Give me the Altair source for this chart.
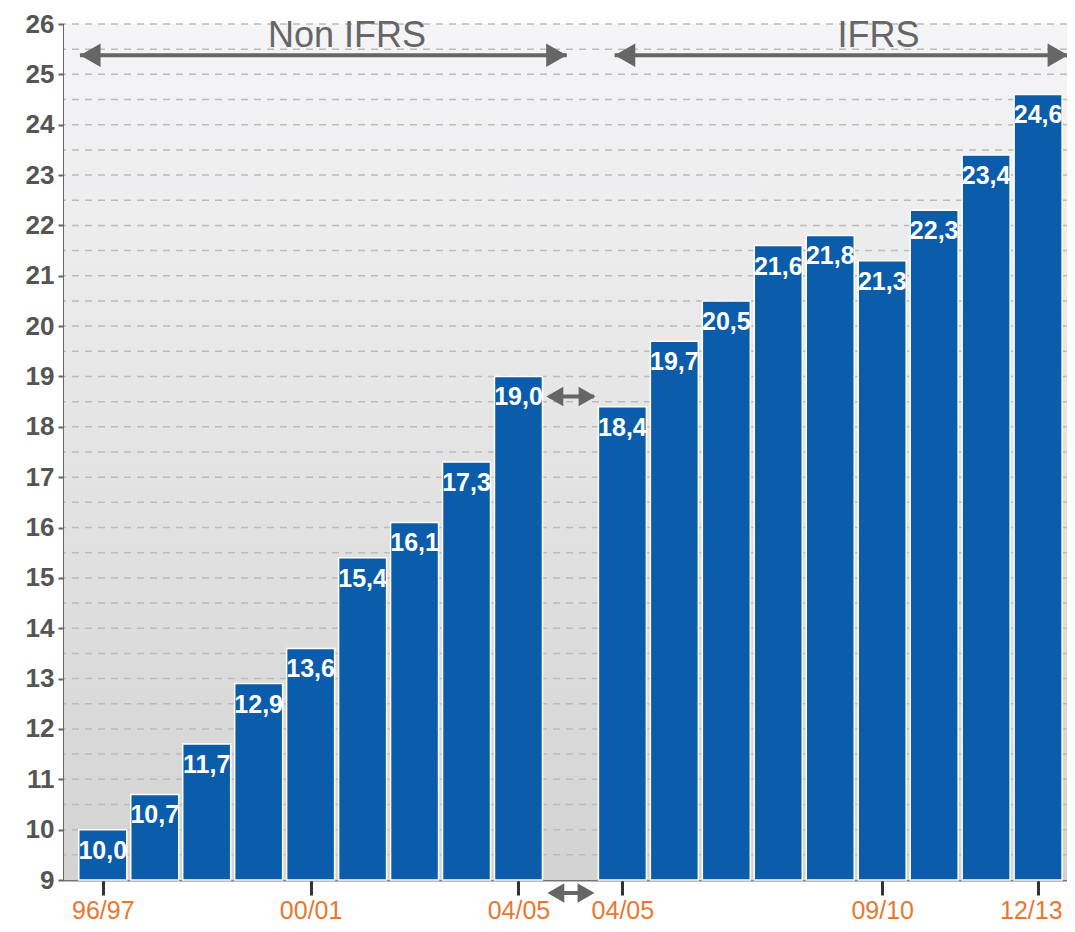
import altair as alt
import pandas as pd

# ---- data ----
years = ["96/97", "97/98", "98/99", "99/00", "00/01", "01/02", "02/03", "03/04", "04/05",
         "04/05", "05/06", "06/07", "07/08", "08/09", "09/10", "10/11", "11/12", "12/13"]
slots = [0, 1, 2, 3, 4, 5, 6, 7, 8, 10, 11, 12, 13, 14, 15, 16, 17, 18]
values = [10.0, 10.7, 11.7, 12.9, 13.6, 15.4, 16.1, 17.3, 19.0,
          18.4, 19.7, 20.5, 21.6, 21.8, 21.3, 22.3, 23.4, 24.6]
tick_slots = [0, 4, 8, 10, 15, 18]
tick_labels = ["96/97", "00/01", "04/05", "04/05", "09/10", "12/13"]
y_ticks = list(range(9, 27))
grid_vals = [9.5 + 0.5 * k for k in range(34)]
BASE = 9

# annotation arrows (slot units, value units)
arrow_x = [-0.44, 9.85, 8.6, 8.65]
arrow_x2 = [8.93, 18.6, 9.45, 9.4]
arrow_y = [25.38, 25.38, 18.6, 8.74]
head_x = [-0.24, 8.73, 10.05, 18.38]
head_y = [25.38, 25.38, 25.38, 25.38]
head_shape = ["triangle-left", "triangle-right", "triangle-left", "triangle-right"]
small_head_x = [8.7, 9.32, 8.72, 9.3]
small_head_y = [18.6, 18.6, 8.74, 8.74]
small_head_shape = ["triangle-left", "triangle-right", "triangle-left", "triangle-right"]
ann_text = ["Non IFRS", "IFRS"]
ann_x = [4.7, 14.93]
ann_y = [25.76, 25.76]

df = pd.DataFrame({
    "slot": slots,
    "year": years,
    "value": values,
    "base": [BASE] * len(values),
    "label": [f"{v:.1f}".replace(".", ",") for v in values],
})
df_grid = pd.DataFrame({"g": grid_vals})
df_arrows = pd.DataFrame({"x": arrow_x, "x2": arrow_x2, "y": arrow_y})
df_heads = pd.DataFrame({"x": head_x, "y": head_y, "shape": head_shape})
df_small = pd.DataFrame({"x": small_head_x, "y": small_head_y, "shape": small_head_shape})
df_ann = pd.DataFrame({"text": ann_text, "x": ann_x, "y": ann_y})

label_expr = "''"
for s, l in reversed(list(zip(tick_slots, tick_labels))):
    label_expr = f"datum.value == {s} ? '{l}' : ({label_expr})"

xscale = alt.Scale(domain=[-0.65, 18.46], nice=False, zero=False)
yscale = alt.Scale(domain=[9, 26], nice=False, zero=False)

last = tick_slots[-1]
x_axis = alt.Axis(
    values=tick_slots, labelExpr=label_expr, title=None, grid=False,
    labelColor="#E8782E", labelFont="Liberation Sans", labelFontSize=25,
    labelPadding=3, tickSize=15, tickWidth=3, tickColor="#333333",
    domainColor="#777777", domainWidth=2, labelFlush=False, labelOverlap=False,
    labelAlign={"condition": {"test": f"datum.value == {last}", "value": "right"}, "value": "center"},
    labelOffset={"condition": {"test": f"datum.value == {last}", "value": 24}, "value": 0},
)
y_axis = alt.Axis(
    values=y_ticks, title=None, grid=False,
    labelColor="#555555", labelFont="Liberation Sans", labelFontSize=26,
    labelFontWeight="bold", labelPadding=4,
    tickSize=6, tickWidth=2, tickColor="#666666",
    domainColor="#666666", domainWidth=3,
)

def X(f):
    return alt.X(f, scale=xscale, axis=x_axis)

def Y(f):
    return alt.Y(f, scale=yscale, axis=y_axis)

bg = alt.Chart(pd.DataFrame({"k": [0]})).mark_rect(
    color=alt.LinearGradient(
        gradient="linear", x1=0, y1=0, x2=0, y2=1,
        stops=[alt.GradientStop(offset=0, color="#F5F5F7"),
               alt.GradientStop(offset=1, color="#D3D3D3")],
    )
).encode(
    x=alt.value(0), x2=alt.value("width"), y=alt.value(0), y2=alt.value("height"),
)

grid = alt.Chart(df_grid).mark_rule(
    color="#BBBBBB", strokeDash=[7, 6], strokeWidth=1.5
).encode(y=Y("g:Q"))

bars = alt.Chart(df).mark_bar(
    color="#0B5CAB", stroke="white", strokeWidth=1.5, size=48
).encode(
    x=X("slot:Q"),
    y=Y("value:Q"),
    y2="base:Q",
)

labels = alt.Chart(df).mark_text(
    color="white", font="Liberation Sans", fontSize=25, fontWeight="bold",
    baseline="alphabetic", dy=29, align="center",
).encode(
    x=X("slot:Q"),
    y=Y("value:Q"),
    text="label:N",
)

arrows = alt.Chart(df_arrows).mark_rule(color="#666666", strokeWidth=4).encode(
    x=X("x:Q"),
    x2="x2:Q",
    y=Y("y:Q"),
)

heads = alt.Chart(df_heads).mark_point(filled=True, color="#666666", opacity=1, size=560).encode(
    x=X("x:Q"),
    y=Y("y:Q"),
    shape=alt.Shape("shape:N", scale=None),
)

small_heads = alt.Chart(df_small).mark_point(filled=True, color="#666666", opacity=1, size=380).encode(
    x=X("x:Q"),
    y=Y("y:Q"),
    shape=alt.Shape("shape:N", scale=None),
)

ann = alt.Chart(df_ann).mark_text(
    color="#666666", font="Liberation Sans", fontSize=36, baseline="middle", align="center",
).encode(
    x=X("x:Q"),
    y=Y("y:Q"),
    text="text:N",
)

chart = alt.layer(bg, grid, bars, labels, arrows, heads, small_heads, ann).properties(
    width=1003, height=856,
    autosize=alt.AutoSizeParams(type="none"),
    padding={"left": 56, "top": 16, "right": 0, "bottom": 44},
    background="white",
).configure_view(stroke=None)

chart.save("out.html", embed_options={"renderer": "svg", "actions": False})
